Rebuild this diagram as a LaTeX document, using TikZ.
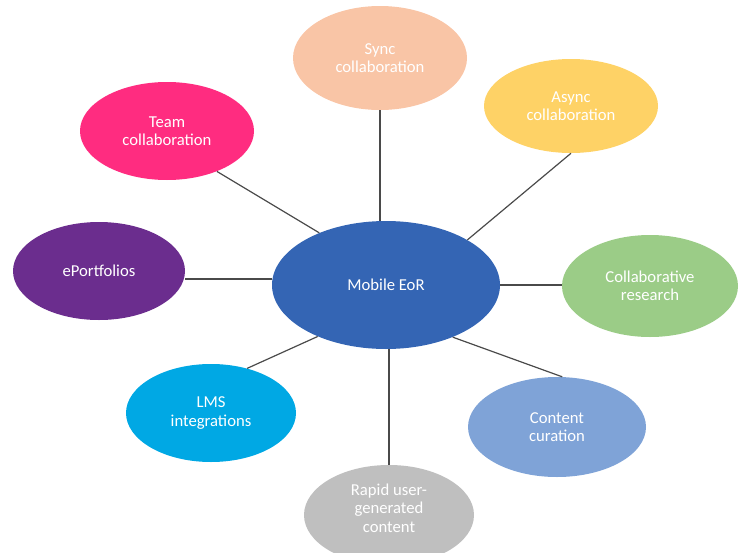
\documentclass[tikz,border=0pt]{standalone}
\usepackage{fontspec}
\setmainfont{Carlito}
\usetikzlibrary{shapes.geometric}
\definecolor{cMain}{HTML}{3465B4}
\definecolor{cSync}{HTML}{F9C5A6}
\definecolor{cAsync}{HTML}{FED266}
\definecolor{cTeam}{HTML}{FF2C80}
\definecolor{cPort}{HTML}{6B2D8E}
\definecolor{cCollab}{HTML}{9BCC87}
\definecolor{cLMS}{HTML}{00A8E4}
\definecolor{cCont}{HTML}{7FA3D7}
\definecolor{cRapid}{HTML}{BFBFBF}
\definecolor{linkgray}{HTML}{4A4A4A}
\begin{document}
\begin{tikzpicture}[x=0.75pt,y=-0.75pt,
  bubble/.style={ellipse, draw=none, inner sep=0pt, text=white, align=center,
    font=\fontsize{12.5}{13.8}\selectfont},
  txt/.style={inner sep=0pt, text=white, align=center, font=\fontsize{12.5}{13.8}\selectfont},
  link/.style={draw=linkgray, line width=0.9pt}]
\useasboundingbox (0,0) rectangle (739,553);
\node[bubble, fill=cMain, minimum width=171pt, minimum height=96pt] (C) at (386,285) {Mobile EoR};
\node[bubble, fill=cSync, minimum width=130.5pt, minimum height=78pt] (sync) at (380,58) {Sync\\collaboration};
\node[bubble, fill=cAsync, minimum width=130.5pt, minimum height=70.5pt] (async) at (571,106) {Async\\collaboration};
\node[bubble, fill=cTeam, minimum width=130.5pt, minimum height=73.5pt] (team) at (167,131) {Team\\collaboration};
\node[bubble, fill=cPort, minimum width=129pt, minimum height=73.5pt] (eport) at (99,271) {ePortfolios};
\node[bubble, fill=cCollab, minimum width=132pt, minimum height=76.5pt] (collab) at (650,286) {Collaborative\\research};
\node[bubble, fill=cLMS, minimum width=127.5pt, minimum height=73.5pt] (lms) at (211,413) {LMS\\integrations};
\node[bubble, fill=cCont, minimum width=133.5pt, minimum height=75pt] (content) at (557,427) {Content\\curation};
\node[bubble, fill=cRapid, minimum width=127.5pt, minimum height=75pt] (rapid) at (389,515) {};
\node[txt] (rapidtext) at (389,508) {Rapid user-\\generated\\content};
\draw[link] (team.-39.5) -- (C.142.5);
\draw[link] (sync.south) -- (sync.south |- C.north);
\draw[link] (async.south) -- (C.29.7);
\draw[link] (eport.east |- C.177) -- (C.177);
\draw[link] (C.east) -- (C.east -| collab.west);
\draw[link] (lms.51.8) -- (C.217);
\draw[link] (content.84) -- (C.322);
\draw[link] (rapid.north |- C.south) -- (rapid.north);
\end{tikzpicture}
\end{document}
